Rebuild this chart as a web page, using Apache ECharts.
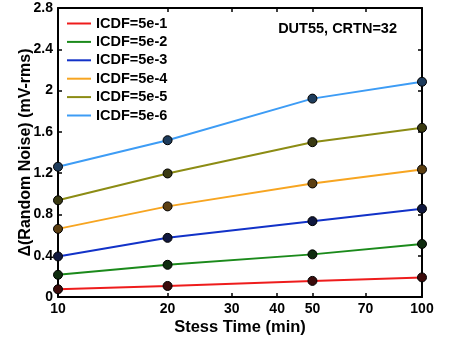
<!DOCTYPE html>
<html>
<head>
<meta charset="utf-8">
<script src="https://cdn.jsdelivr.net/npm/echarts@6/dist/echarts.min.js"></script>
<style>
  html, body { margin: 0; padding: 0; background: #ffffff; }
  #chart { width: 454px; height: 337px; }
</style>
</head>
<body>
<div id="chart"></div>
<script>
// stress time (min)
const stressTime = [10, 20, 50, 100]
const xTicks = [10, 20, 30, 40, 50, 70, 100]

const seriesNames = ['ICDF=5e-1', 'ICDF=5e-2', 'ICDF=5e-3', 'ICDF=5e-4', 'ICDF=5e-5', 'ICDF=5e-6']
const icdf5e1 = [0.075, 0.107, 0.156, 0.19]
const icdf5e2 = [0.215, 0.312, 0.413, 0.514]
const icdf5e3 = [0.393, 0.573, 0.735, 0.855]
const icdf5e4 = [0.66, 0.878, 1.10, 1.236]
const icdf5e5 = [0.937, 1.197, 1.50, 1.639]
const icdf5e6 = [1.262, 1.519, 1.922, 2.085]

const lineColors = ['#ee1c1c', '#1b8a1b', '#1232c8', '#f7a521', '#8c8c14', '#3d9cf5']
const markerColors = ['#3c0c0c', '#0f2c0f', '#10183e', '#5c3f12', '#3a3a12', '#1e3c5c']

const font = 'Liberation Sans, Arial, sans-serif'
const chart = echarts.init(document.getElementById('chart'))

const allValues = [icdf5e1, icdf5e2, icdf5e3, icdf5e4, icdf5e5, icdf5e6]
const series = allValues.map((vals, i) => ({
  name: seriesNames[i],
  type: 'line',
  xAxisIndex: 0,
  yAxisIndex: 0,
  data: stressTime.map((t, j) => [t, vals[j]]),
  clip: false,
  symbol: 'circle',
  symbolSize: 9,
  lineStyle: { color: lineColors[i], width: 2 },
  itemStyle: { color: markerColors[i], borderColor: '#000', borderWidth: 1 },
  emphasis: { disabled: true }
}))

const boxAxis = {
  axisLine: { show: true, onZero: false, lineStyle: { color: '#000', width: 2 } },
  splitLine: { show: false }
}
const tickStyle = { color: '#000', width: 1.5 }

chart.setOption({
  animation: false,
  grid: { left: 58, right: 32, top: 8, bottom: 40, outerBoundsMode: 'none', containLabel: false },
  legend: {
    orient: 'vertical',
    left: 67,
    top: 16,
    padding: 0,
    itemWidth: 24,
    itemHeight: 2,
    itemGap: 3.4,
    icon: 'rect',
    textStyle: { fontFamily: font, fontWeight: 'bold', fontSize: 14.5, color: '#000', lineHeight: 14 },
    data: seriesNames.map((n, i) => ({ name: n, itemStyle: { color: lineColors[i], borderWidth: 0 } }))
  },
  graphic: [{
    type: 'text',
    right: 57,
    top: 21,
    style: { text: 'DUT55, CRTN=32', fontFamily: font, fontWeight: 'bold', fontSize: 14.5, fill: '#000' }
  }],
  xAxis: [{
    ...boxAxis,
    type: 'log',
    logBase: 10,
    min: 10,
    max: 100,
    position: 'bottom',
    name: 'Stess Time (min)',
    nameLocation: 'middle',
    nameGap: 22,
    nameMoveOverlap: false,
    nameTextStyle: { fontFamily: font, fontWeight: 'bold', fontSize: 16.5, color: '#000' },
    axisTick: { show: true, inside: true, length: 4, customValues: xTicks, lineStyle: tickStyle },
    axisLabel: { customValues: xTicks, margin: 5, fontFamily: font, fontWeight: 'bold', fontSize: 14, color: '#000' },
    minorTick: { show: false }
  }, {
    ...boxAxis,
    type: 'log',
    logBase: 10,
    min: 10,
    max: 100,
    position: 'top',
    axisTick: { show: true, inside: true, length: 4, customValues: xTicks, lineStyle: tickStyle },
    axisLabel: { show: false }
  }],
  yAxis: [{
    ...boxAxis,
    type: 'value',
    min: 0,
    max: 2.8,
    interval: 0.4,
    position: 'left',
    name: 'Δ(Random Noise) (mV-rms)',
    nameLocation: 'middle',
    nameGap: 24,
    nameMoveOverlap: false,
    nameTextStyle: { fontFamily: font, fontWeight: 'bold', fontSize: 16, color: '#000' },
    axisTick: { show: true, inside: true, length: 4, lineStyle: tickStyle },
    axisLabel: { margin: 5, fontFamily: font, fontWeight: 'bold', fontSize: 14, color: '#000' }
  }, {
    ...boxAxis,
    type: 'value',
    min: 0,
    max: 2.8,
    interval: 0.4,
    position: 'right',
    axisTick: { show: true, inside: true, length: 4, lineStyle: tickStyle },
    axisLabel: { show: false }
  }],
  series: series
})
window.addEventListener('resize', function() {
  chart.resize()
})
</script>
</body>
</html>
